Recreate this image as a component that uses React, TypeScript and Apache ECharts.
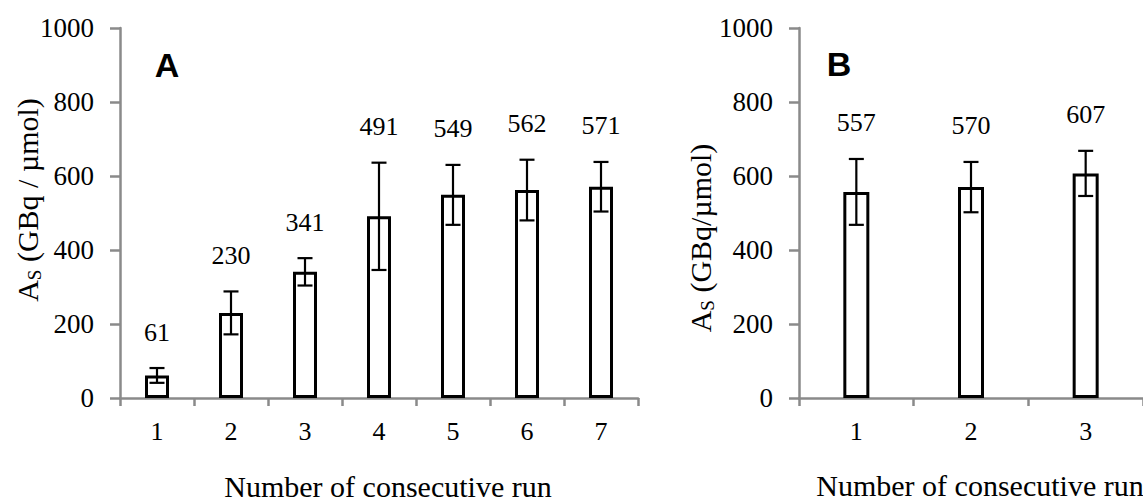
import React, { useEffect, useRef } from "react";
import * as echarts from "echarts";

const runsA = ["1", "2", "3", "4", "5", "6", "7"];
const valuesA = [61, 230, 341, 491, 549, 562, 571];
const errorsA = [20, 58, 37, 145, 81, 82, 67];

const runsB = ["1", "2", "3"];
const valuesB = [557, 570, 607];
const errorsB = [89, 68, 61];

const yTicks = { min: 0, max: 1000, interval: 200 };

const SERIF = "Liberation Serif";
const AXIS_GRAY = "#8a8a8a";

const errorRender = (params: any, api: any) => {
  const i = api.value(0);
  const v = api.value(1);
  const e = api.value(2);
  const top = api.coord([i, v + e]);
  const bot = api.coord([i, v - e]);
  const cap = 7.5;
  const ls = { stroke: "#000", lineWidth: 2.2 };
  return {
    type: "group",
    children: [
      { type: "line", shape: { x1: top[0], y1: top[1], x2: bot[0], y2: bot[1] }, style: ls },
      { type: "line", shape: { x1: top[0] - cap, y1: top[1], x2: top[0] + cap, y2: top[1] }, style: ls },
      { type: "line", shape: { x1: bot[0] - cap, y1: bot[1], x2: bot[0] + cap, y2: bot[1] }, style: ls },
      {
        type: "text",
        x: top[0],
        y: top[1] - 36,
        style: {
          text: String(v),
          fill: "#000",
          fontSize: 26,
          fontFamily: SERIF,
          align: "center",
          verticalAlign: "middle",
        },
      },
    ],
  };
};

const makeXAxis = (gridIndex: number, cats: string[]) => ({
  type: "category",
  gridIndex,
  data: cats,
  boundaryGap: true,
  axisLine: { show: true, lineStyle: { color: AXIS_GRAY, width: 2.5 } },
  axisTick: { show: true, length: 8, lineStyle: { color: AXIS_GRAY, width: 2.5 } },
  axisLabel: { color: "#000", fontSize: 26, fontFamily: SERIF, margin: 20 },
  splitLine: { show: false },
});

const makeYAxis = (gridIndex: number) => ({
  type: "value",
  gridIndex,
  min: yTicks.min,
  max: yTicks.max,
  interval: yTicks.interval,
  axisLine: { show: true, lineStyle: { color: AXIS_GRAY, width: 2.5 } },
  axisTick: { show: true, length: 10, lineStyle: { color: AXIS_GRAY, width: 2.5 } },
  axisLabel: {
    color: "#000",
    fontSize: 27,
    fontFamily: SERIF,
    margin: 26,
    formatter: (v: number) => String(v),
  },
  splitLine: { show: false },
});

const yTitle = (x: number, y: number, rest: string) => ({
  type: "text",
  x,
  y,
  rotation: Math.PI / 2,
  style: {
    text: "{a|A}{s|S}{a|" + rest + "}",
    align: "center",
    verticalAlign: "middle",
    fill: "#000",
    fontFamily: SERIF,
    rich: {
      a: { fontSize: 30, fontFamily: SERIF, lineHeight: 34, fill: "#000" },
      s: { fontSize: 19, fontFamily: SERIF, lineHeight: 17, verticalAlign: "bottom", fill: "#000" },
    },
  },
});

const xTitle = (x: number, y: number) => ({
  type: "text",
  x,
  y,
  style: {
    text: "Number of consecutive run",
    fontSize: 30,
    fontFamily: SERIF,
    fill: "#000",
    align: "center",
    verticalAlign: "middle",
  },
});

const panelLetter = (x: number, y: number, t: string) => ({
  type: "text",
  x,
  y,
  style: {
    text: t,
    fontSize: 34,
    fontWeight: "bold",
    fontFamily: "Liberation Sans",
    fill: "#000",
    align: "center",
    verticalAlign: "middle",
  },
});

export default function App() {
  const ref = useRef<HTMLDivElement>(null);
  useEffect(() => {
    if (!ref.current) return;
    const chart = echarts.init(ref.current, undefined, { renderer: "svg" });
    const barStyle = { color: "#fff", borderColor: "#000", borderWidth: 3 };
    chart.setOption({
      animation: false,
      backgroundColor: "#fff",
      textStyle: { fontFamily: SERIF },
      grid: [
        { left: 120, top: 28, width: 518, height: 370 },
        { left: 799, top: 28, width: 348, height: 370 },
      ],
      xAxis: [makeXAxis(0, runsA), makeXAxis(1, runsB)],
      yAxis: [makeYAxis(0), makeYAxis(1)],
      series: [
        {
          type: "bar",
          xAxisIndex: 0,
          yAxisIndex: 0,
          data: valuesA,
          barWidth: 24,
          itemStyle: barStyle,
          z: 2,
        },
        {
          type: "custom",
          xAxisIndex: 0,
          yAxisIndex: 0,
          data: valuesA.map((v, i) => [i, v, errorsA[i]]),
          encode: { x: 0, y: 1 },
          renderItem: errorRender,
          z: 3,
        },
        {
          type: "bar",
          xAxisIndex: 1,
          yAxisIndex: 1,
          data: valuesB,
          barWidth: 26,
          itemStyle: barStyle,
          z: 2,
        },
        {
          type: "custom",
          xAxisIndex: 1,
          yAxisIndex: 1,
          data: valuesB.map((v, i) => [i, v, errorsB[i]]),
          encode: { x: 0, y: 1 },
          renderItem: errorRender,
          z: 3,
        },
      ],
      graphic: [
        yTitle(27, 200, " (GBq / µmol)"),
        yTitle(700, 238, " (GBq/µmol)"),
        xTitle(388, 486),
        xTitle(980, 485),
        panelLetter(167, 65, "A"),
        panelLetter(839, 64, "B"),
      ],
    });
    return () => chart.dispose();
  }, []);
  return (
    <div
      ref={ref}
      style={{ position: "fixed", left: 0, top: 0, width: 1143, height: 503, background: "#fff" }}
    />
  );
}
